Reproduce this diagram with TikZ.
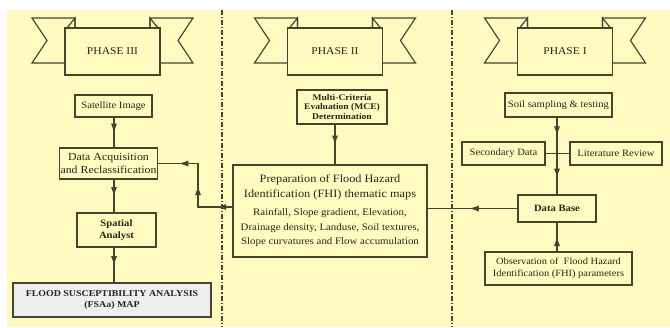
\documentclass[tikz,border=0pt]{standalone}
\usepackage{fontspec}
\setmainfont[FakeStretch=1.1]{Liberation Serif}
\usetikzlibrary{arrows.meta,decorations.markings}
\definecolor{bgy}{RGB}{255,251,192}
\definecolor{ink}{RGB}{70,68,46}
\definecolor{txt}{RGB}{40,39,26}
\definecolor{fsa}{RGB}{236,238,240}
\begin{document}
\begin{tikzpicture}[x=1pt,y=-1pt,
  box/.style={draw=ink,line width=1.2pt,fill=bgy,align=center,text=txt,inner sep=1pt,font=\fontsize{9.7}{11}\selectfont},
  phasebox/.style={box,minimum width=95pt,minimum height=47pt,font=\fontsize{10.5}{12}\selectfont},
  tail/.style={draw=ink,line width=1.2pt,fill=bgy,line join=miter},
  conn/.style={draw=ink,line width=1.2pt},
  divider/.style={draw=ink,line width=1.1pt,dash pattern=on 5pt off 2pt on 1.2pt off 2pt},
  tip/.tip={Latex[length=9pt,width=6pt,line width=0pt,fill=ink]},
  arr/.style={decoration={markings,mark=at position #1 with {\arrow[ink]{tip}}},postaction={decorate}},
  arr/.default=0.5]
\useasboundingbox (0,0) rectangle (670,327);
\fill[bgy] (7,10) rectangle (670,327);
% dividers
\draw[divider] (222,10) -- (222,327);
\draw[divider] (452,10) -- (452,327);
% banners
\foreach \cx/\nm/\tx in {112.5/p3/PHASE III, 335/p2/PHASE II, 565/p1/PHASE I}{
  \begin{scope}[shift={(\cx,0)}]
    \filldraw[tail] (-37.5,18) -- (-80.5,18) -- (-65.5,40.5) -- (-80.5,63) -- (-37.5,63) -- cycle;
    \filldraw[tail] (37.5,18) -- (80.5,18) -- (65.5,40.5) -- (80.5,63) -- (37.5,63) -- cycle;
    \node[phasebox] (\nm) at (0,51.5) {\tx};
    \draw[tail,fill=none] (-45.5,28) -- (-37.5,18) -- (-37.5,28);
    \draw[tail,fill=none] (45.5,28) -- (37.5,18) -- (37.5,28);
  \end{scope}}
% Phase III
\node[box,minimum width=77pt,minimum height=22pt] (sat) at (113.5,106) {Satellite Image};
\node[box,minimum width=97pt,minimum height=31pt,font=\fontsize{10.8}{13}\selectfont] (daq) at (108.5,163.5) {Data Acquisition\\and Reclassification};
\node[box,minimum width=79pt,minimum height=34pt,font=\fontsize{9.7}{11.5}\selectfont\bfseries] (spa) at (116.5,230) {Spatial\\Analyst};
\node[box,fill=fsa,minimum width=198pt,minimum height=34pt,font=\fontsize{9}{11}\selectfont\bfseries] (fsa) at (112,300) {FLOOD SUSCEPTIBILITY ANALYSIS\\(FSAa) MAP};
% Phase II
\node[box,minimum width=90pt,minimum height=34pt,font=\fontsize{8.7}{9.8}\selectfont\bfseries] (mce) at (342,107) {Multi-Criteria\\Evaluation (MCE)\\Determination};
\node[box,minimum width=194pt,minimum height=92pt,font=\fontsize{11.2}{14.5}\selectfont] (prep) at (330,211) {Preparation of Flood Hazard\\Identification (FHI) thematic maps\\[4pt]{\fontsize{9.9}{12}\selectfont Rainfall, Slope gradient, Elevation,}\\{\fontsize{9.9}{12}\selectfont Drainage density, Landuse, Soil textures,}\\{\fontsize{9.9}{12}\selectfont Slope curvatures and Flow accumulation}};
% Phase I
\node[box,minimum width=107pt,minimum height=24pt] (soil) at (558.5,105) {Soil sampling \& testing};
\node[box,minimum width=83pt,minimum height=23pt] (sec) at (503.5,153.5) {Secondary Data};
\node[box,minimum width=92pt,minimum height=23pt] (lit) at (616,153.5) {Literature Review};
\node[box,minimum width=78pt,minimum height=27pt,font=\fontsize{9.7}{11}\selectfont\bfseries] (db) at (557,208.5) {Data Base};
\node[box,minimum width=147pt,minimum height=33pt,font=\fontsize{9.5}{12}\selectfont] (obs) at (558.5,268.5) {Observation of~ Flood Hazard\\Identification (FHI) parameters};
% connectors
\coordinate (l3) at (114,0);
\draw[conn,arr] (sat.south -| l3) -- (daq.north -| l3);
\draw[conn,arr] (daq.south -| l3) -- (spa.north -| l3);
\draw[conn,arr] (spa.south -| l3) -- (fsa.north -| l3);
\coordinate (l2) at (335,0);
\draw[conn,arr] (mce.south -| l2) -- (prep.north -| l2);
\coordinate (l1) at (557,0);
\draw[conn,decoration={markings,
   mark=at position 0.23 with {\arrow[ink]{tip}},
   mark=at position 0.78 with {\arrow[ink]{tip}}},postaction={decorate}] (soil.south -| l1) -- (db.north -| l1);
\draw[conn] (sec.east) -- (lit.west);
\draw[conn,arr] (obs.north -| l1) -- (db.south -| l1);
\draw[conn,arr=0.53] (db.west) -- (db.west -| prep.east);
\coordinate (pj) at (198,207);
\draw[conn,decoration={markings,
   mark=at position 0.13 with {\arrow[ink]{tip}},
   mark=at position 0.47 with {\arrow[ink]{tip}},
   mark=at position 0.82 with {\arrow[ink]{tip}}},postaction={decorate}]
   (prep.west |- pj) -- (pj) -- (pj |- daq.east) -- (daq.east);
\end{tikzpicture}
\end{document}
